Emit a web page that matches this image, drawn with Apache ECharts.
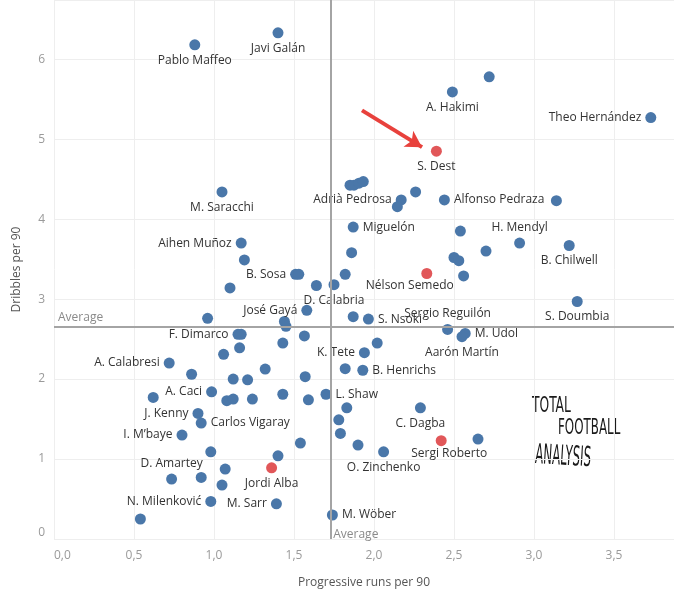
<!DOCTYPE html>
<html>
<head>
<meta charset="utf-8">
<script src="https://cdn.jsdelivr.net/npm/echarts@6/dist/echarts.min.js"></script>
<style>
html,body{margin:0;padding:0;background:#fff;}
#chart{width:674px;height:589px;}
</style>
</head>
<body>
<div id="chart"></div>
<script>
// ---- data ----
const playerNames = [
  'Pablo Maffeo','Javi Galán','M. Saracchi','A. Hakimi','Theo Hernández','Adrià Pedrosa','Alfonso Pedraza',
  'Miguelón','H. Mendyl','B. Chilwell','Aihen Muñoz','B. Sosa','D. Calabria','José Gayá','Sergio Reguilón',
  'S. Doumbia','S. Nsoki','M. Udol','Aarón Martín','F. Dimarco','A. Calabresi','K. Tete','B. Henrichs',
  'A. Caci','L. Shaw','J. Kenny','Carlos Vigaray','I. M’baye','C. Dagba','O. Zinchenko','D. Amartey',
  'N. Milenković','M. Sarr','M. Wöber',
  '','','','','','','','','','','','','','','','','','','','','','','','','','','','','','','','','','','','','','','','','','','','','','','','','','','',''
];
const progressiveRuns = [
  0.88,1.40,1.05,2.49,3.73,2.17,2.44,
  1.87,2.91,3.22,1.17,1.51,1.75,1.58,2.46,
  3.27,1.965,2.57,2.55,1.15,0.72,1.94,1.93,
  0.985,1.70,0.90,0.92,0.80,2.29,2.06,0.735,
  0.98,1.39,1.74,
  2.72,1.85,1.875,1.906,1.933,2.26,2.146,3.14,2.54,2.70,1.86,2.50,2.53,1.82,2.56,1.53,1.64,1.19,1.10,
  1.87,0.96,1.44,1.45,1.17,1.565,1.43,1.16,1.06,2.02,0.86,1.32,1.82,1.12,1.21,1.57,0.62,1.08,1.12,1.24,
  1.43,1.59,1.83,1.78,1.79,1.90,2.65,0.98,1.54,1.40,1.07,0.92,1.05,0.54
];
const dribbles = [
  6.18,6.33,4.34,5.59,5.27,4.24,4.24,
  3.90,3.70,3.67,3.70,3.31,3.18,2.86,2.62,
  2.97,2.75,2.57,2.53,2.56,2.20,2.33,2.11,
  1.84,1.81,1.57,1.45,1.30,1.64,1.09,0.75,
  0.47,0.44,0.30,
  5.78,4.425,4.425,4.45,4.47,4.34,4.155,4.23,3.85,3.60,3.58,3.52,3.48,3.31,3.29,3.31,3.17,3.49,3.14,
  2.78,2.76,2.72,2.66,2.56,2.54,2.45,2.39,2.31,2.45,2.06,2.125,2.13,2.00,1.99,2.03,1.77,1.73,1.75,1.75,
  1.81,1.74,1.64,1.49,1.32,1.175,1.25,1.09,1.20,1.04,0.875,0.77,0.675,0.25
];
const highlightNames = ['S. Dest','Nélson Semedo','Sergi Roberto','Jordi Alba'];
const highlightRuns = [2.39,2.33,2.42,1.36];
const highlightDribbles = [4.85,3.32,1.23,0.89];
const averageRuns = 1.725;
const averageDribbles = 2.66;
const xTicks = [0,0.5,1,1.5,2,2.5,3,3.5];
const yTicks = [0,1,2,3,4,5,6];
const arrowFrom = [1.925, 5.36];
const arrowTo = [2.30, 4.90];

// ---- label placement (styling) ----
const labelPlacement = {
  'Theo Hernández':['left'], 'Adrià Pedrosa':['left'], 'Alfonso Pedraza':['right'], 'Miguelón':['right'],
  'H. Mendyl':['top',[28,4]], 'Aihen Muñoz':['left'], 'B. Sosa':['left'], 'D. Calabria':['bottom',[13,0]],
  'José Gayá':['left',[-13,-2]], 'Sergio Reguilón':['top',[44,4]], 'S. Nsoki':['right'], 'M. Udol':['right'],
  'F. Dimarco':['left'], 'A. Calabresi':['left'], 'K. Tete':['left'], 'B. Henrichs':['right'], 'A. Caci':['left'],
  'L. Shaw':['right'], 'J. Kenny':['left',[-14,0]], 'Carlos Vigaray':['right'], 'I. M’baye':['left'],
  'D. Amartey':['top'], 'N. Milenković':['left'], 'M. Sarr':['left'], 'M. Wöber':['right'],
  'Nélson Semedo':['bottom',[-17,-3]], 'Sergi Roberto':['bottom',[8,-3]]
};
const FONT = '"Open Sans", sans-serif';
const LOGO_FONT = '"DejaVu Sans Condensed", sans-serif';

function buildData(names, xs, ys) {
  return xs.map((x, i) => {
    const n = names[i] || '';
    const p = labelPlacement[n] || ['bottom'];
    return {
      name: n,
      value: [x, ys[i]],
      label: { show: n !== '', position: p[0], offset: p[1] || [0, 0] }
    };
  });
}

const chart = echarts.init(document.getElementById('chart'), null, { renderer: 'canvas' });
const labelStyle = { formatter: '{b}', color: '#333', fontSize: 12, fontFamily: FONT, distance: 4 };

chart.setOption({
  animation: false,
  backgroundColor: '#fff',
  textStyle: { fontFamily: FONT },
  grid: { left: 54, right: 0, top: 0, bottom: 50, containLabel: false, outerBoundsMode: 'none' },
  xAxis: {
    type: 'value', min: 0, max: 3.875, interval: 0.5,
    axisLine: { show: false }, axisTick: { show: false },
    splitLine: { show: true, lineStyle: { color: '#eeeeee', width: 1 } },
    axisLabel: {
      color: '#9a9a9a', fontSize: 12, margin: 11, fontFamily: FONT, showMaxLabel: false,
      alignMinLabel: 'left',
      formatter: v => xTicks.includes(v) ? v.toFixed(1).replace('.', ',') : ''
    },
    name: 'Progressive runs per 90', nameLocation: 'middle', nameGap: 38,
    nameTextStyle: { color: '#555', fontSize: 12, fontFamily: FONT }
  },
  yAxis: {
    type: 'value', min: 0, max: 6.74, interval: 1,
    axisLine: { show: false }, axisTick: { show: false },
    splitLine: { show: true, lineStyle: { color: '#eeeeee', width: 1 } },
    axisLabel: {
      color: '#9a9a9a', fontSize: 12, margin: 9, fontFamily: FONT, showMaxLabel: false,
      verticalAlignMinLabel: 'bottom',
      formatter: v => yTicks.includes(v) ? String(v) : ''
    },
    name: 'Dribbles per 90', nameLocation: 'middle', nameGap: 31, nameRotate: 90,
    nameTextStyle: { color: '#555', fontSize: 12, fontFamily: FONT }
  },
  series: [
    {
      type: 'scatter', name: 'players', symbolSize: 11,
      itemStyle: { color: '#4a77a9', opacity: 1 },
      label: labelStyle,
      labelLayout: { hideOverlap: false },
      data: buildData(playerNames, progressiveRuns, dribbles),
      markLine: {
        silent: true, symbol: 'none', animation: false,
        lineStyle: { color: '#a4a4a4', width: 2, type: 'solid' },
        data: [
          { yAxis: averageDribbles, label: { show: true, formatter: 'Average', position: 'insideStartTop', color: '#8a8a8a', fontSize: 12, fontFamily: FONT, distance: [4, 3] } },
          { xAxis: averageRuns, label: { show: true, formatter: 'Average', position: 'start', color: '#8a8a8a', fontSize: 12, fontFamily: FONT, offset: [25, -15] } }
        ]
      },
      z: 3
    },
    {
      type: 'scatter', name: 'highlight', symbolSize: 11,
      itemStyle: { color: '#e15759', opacity: 1 },
      label: labelStyle,
      data: buildData(highlightNames, highlightRuns, highlightDribbles),
      markLine: {
        silent: true, symbol: ['none', 'arrow'], symbolSize: [14, 16], animation: false,
        lineStyle: { color: '#e8413c', width: 4, type: 'solid' },
        label: { show: false },
        data: [[{ coord: arrowFrom }, { coord: arrowTo }]]
      },
      z: 4
    }
  ],
  graphic: [
    {
      type: 'group', left: 532, top: 396, silent: true,
      children: [
        { type: 'text', x: 0, y: 0, scaleX: 0.62, scaleY: 0.95, style: { text: 'TOTAL', font: '22px ' + LOGO_FONT, fill: '#1a1a1a' } },
        { type: 'text', x: 26, y: 22, scaleX: 0.6, scaleY: 0.95, style: { text: 'FOOTBALL', font: '22px ' + LOGO_FONT, fill: '#1a1a1a' } },
        { type: 'text', x: 4, y: 46, scaleX: 0.55, scaleY: 1.15, rotation: -0.06, style: { text: 'ANALYSIS', font: '24px ' + LOGO_FONT, fill: '#1a1a1a' } }
      ]
    }
  ]
});
</script>
</body>
</html>
